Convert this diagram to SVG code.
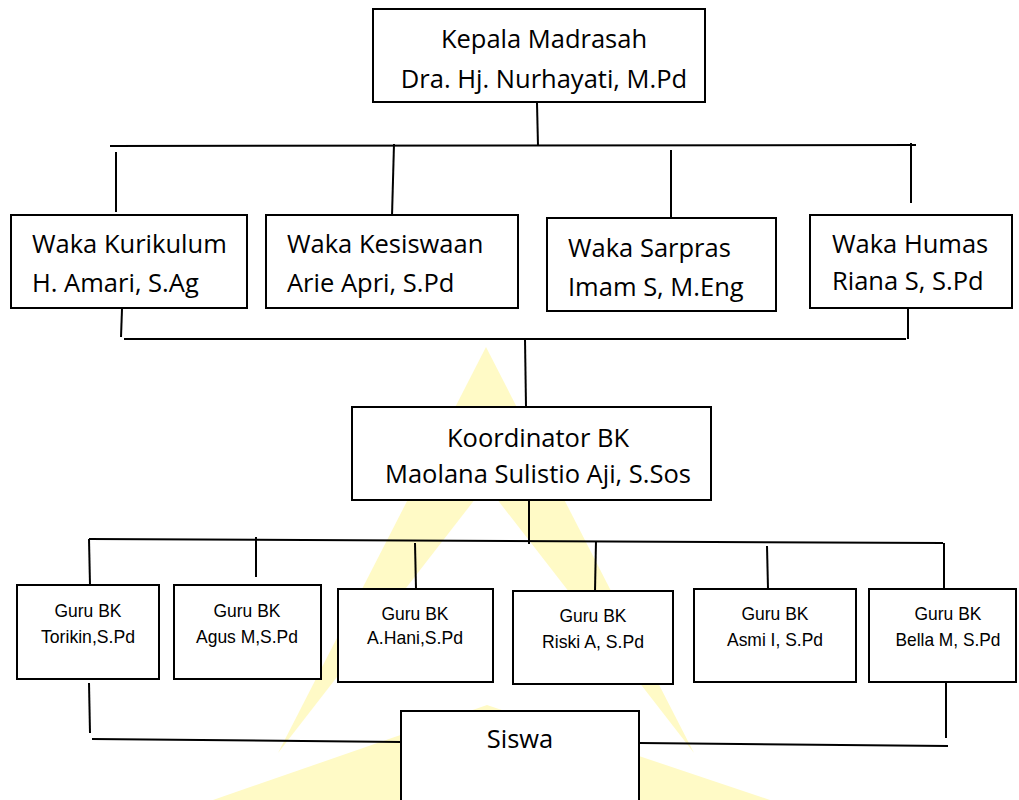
<svg xmlns="http://www.w3.org/2000/svg" width="1019" height="800" viewBox="0 0 1019 800">
  <style>
    .box { fill: #ffffff; stroke: #000000; stroke-width: 2; }
    .ln { stroke: #000000; stroke-width: 2; fill: none; }
    .big { font-family: "Open Sans", "Noto Sans", sans-serif; font-size: 25.5px; fill: #000000; }
    .small { font-family: "Liberation Sans", Arial, sans-serif; font-size: 19px; fill: #000000; text-anchor: middle; }
    .mid { text-anchor: middle; }
    .wm { fill: #fffac6; }
  </style>
  <rect x="0" y="0" width="1019" height="800" fill="#ffffff"/>
  <g id="watermark">
    <polygon class="wm" points="486,347 486,485 278,753"/>
    <polygon class="wm" points="486,347 694,753 486,485"/>
    <polygon class="wm" points="487,705 213,800 770,800"/>
  </g>
  <g id="connectors">
    <line class="ln" x1="537" y1="103" x2="538" y2="146"/>
    <line class="ln" x1="110" y1="146" x2="916" y2="145"/>
    <line class="ln" x1="116" y1="152" x2="116" y2="212"/>
    <line class="ln" x1="394" y1="144" x2="392" y2="216"/>
    <line class="ln" x1="671" y1="150" x2="671" y2="217"/>
    <line class="ln" x1="911" y1="143" x2="911" y2="203"/>
    <line class="ln" x1="122" y1="309" x2="121" y2="337"/>
    <line class="ln" x1="908" y1="308" x2="908" y2="339"/>
    <line class="ln" x1="124" y1="339" x2="906" y2="339"/>
    <line class="ln" x1="525" y1="339" x2="526" y2="407"/>
    <line class="ln" x1="529" y1="498" x2="529" y2="544"/>
    <line class="ln" x1="89" y1="539" x2="943" y2="543"/>
    <line class="ln" x1="89" y1="539" x2="90" y2="585"/>
    <line class="ln" x1="256" y1="537" x2="256" y2="577"/>
    <line class="ln" x1="415" y1="543" x2="416" y2="589"/>
    <line class="ln" x1="596" y1="541" x2="595" y2="591"/>
    <line class="ln" x1="767" y1="546" x2="768" y2="589"/>
    <line class="ln" x1="944" y1="543" x2="944" y2="589"/>
    <line class="ln" x1="89" y1="683" x2="90" y2="733"/>
    <line class="ln" x1="92" y1="739" x2="401" y2="742"/>
    <line class="ln" x1="946" y1="683" x2="946" y2="738"/>
    <line class="ln" x1="640" y1="743" x2="948" y2="746"/>
  </g>
  <g id="kepala">
    <rect class="box" x="373" y="9" width="332" height="93"/>
    <text class="big mid" x="544" y="48">Kepala Madrasah</text>
    <text class="big mid" x="544" y="88">Dra. Hj. Nurhayati, M.Pd</text>
  </g>
  <g id="waka-kurikulum">
    <rect class="box" x="11" y="215" width="236" height="93"/>
    <text class="big" x="32" y="253">Waka Kurikulum</text>
    <text class="big" x="32" y="292">H. Amari, S.Ag</text>
  </g>
  <g id="waka-kesiswaan">
    <rect class="box" x="266" y="215" width="252" height="93"/>
    <text class="big" x="287" y="253">Waka Kesiswaan</text>
    <text class="big" x="287" y="292">Arie Apri, S.Pd</text>
  </g>
  <g id="waka-sarpras">
    <rect class="box" x="547" y="218" width="229" height="93"/>
    <text class="big" x="568" y="257">Waka Sarpras</text>
    <text class="big" x="568" y="296">Imam S, M.Eng</text>
  </g>
  <g id="waka-humas">
    <rect class="box" x="810" y="215" width="202" height="93"/>
    <text class="big" x="832" y="253">Waka Humas</text>
    <text class="big" x="832" y="290">Riana S, S.Pd</text>
  </g>
  <g id="koordinator">
    <rect class="box" x="352" y="407" width="359" height="93"/>
    <text class="big mid" x="538" y="447">Koordinator BK</text>
    <text class="big mid" x="538" y="483">Maolana Sulistio Aji, S.Sos</text>
  </g>
  <g id="guru-1">
    <rect class="box" x="17" y="585" width="142" height="94"/>
    <text class="small" x="88" y="617" textLength="67" lengthAdjust="spacingAndGlyphs">Guru BK</text>
    <text class="small" x="88" y="643" textLength="94" lengthAdjust="spacingAndGlyphs">Torikin,S.Pd</text>
  </g>
  <g id="guru-2">
    <rect class="box" x="174" y="585" width="147" height="94"/>
    <text class="small" x="247" y="617" textLength="67" lengthAdjust="spacingAndGlyphs">Guru BK</text>
    <text class="small" x="247" y="643" textLength="102" lengthAdjust="spacingAndGlyphs">Agus M,S.Pd</text>
  </g>
  <g id="guru-3">
    <rect class="box" x="338" y="589" width="155" height="93"/>
    <text class="small" x="415" y="620" textLength="67" lengthAdjust="spacingAndGlyphs">Guru BK</text>
    <text class="small" x="415" y="644" textLength="96" lengthAdjust="spacingAndGlyphs">A.Hani,S.Pd</text>
  </g>
  <g id="guru-4">
    <rect class="box" x="513" y="591" width="160" height="93"/>
    <text class="small" x="593" y="622" textLength="67" lengthAdjust="spacingAndGlyphs">Guru BK</text>
    <text class="small" x="593" y="648" textLength="102" lengthAdjust="spacingAndGlyphs">Riski A, S.Pd</text>
  </g>
  <g id="guru-5">
    <rect class="box" x="694" y="589" width="162" height="93"/>
    <text class="small" x="775" y="620" textLength="67" lengthAdjust="spacingAndGlyphs">Guru BK</text>
    <text class="small" x="775" y="646" textLength="96" lengthAdjust="spacingAndGlyphs">Asmi I, S.Pd</text>
  </g>
  <g id="guru-6">
    <rect class="box" x="869" y="589" width="147" height="93"/>
    <text class="small" x="948" y="620" textLength="67" lengthAdjust="spacingAndGlyphs">Guru BK</text>
    <text class="small" x="948" y="646" textLength="105" lengthAdjust="spacingAndGlyphs">Bella M, S.Pd</text>
  </g>
  <g id="siswa">
    <rect class="box" x="401" y="711" width="238" height="100"/>
    <text class="big mid" x="520" y="748">Siswa</text>
  </g>
</svg>
